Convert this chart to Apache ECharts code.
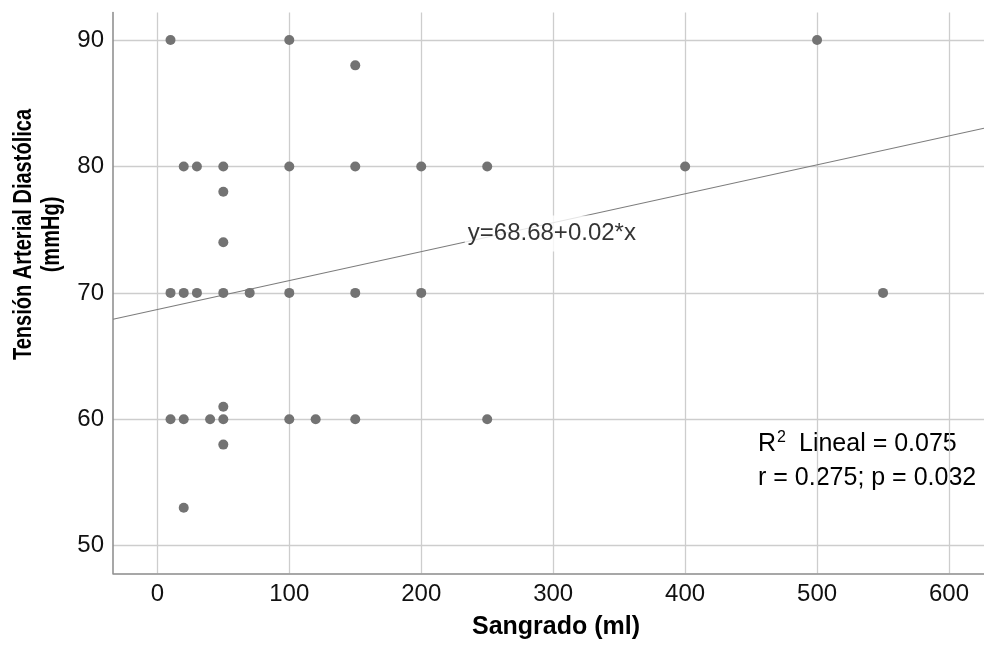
<!DOCTYPE html>
<html>
<head>
<meta charset="utf-8">
<script src="https://cdn.jsdelivr.net/npm/echarts@6/dist/echarts.min.js"></script>
<style>
html,body{margin:0;padding:0;background:#fff;}
#chart{width:984px;height:654px;}
</style>
</head>
<body>
<div id="chart"></div>
<script>
// Data
const sangrado = [10, 100, 500, 150, 20, 30, 50, 100, 150, 200, 250, 400, 50, 50, 10, 20, 30, 50, 70, 100, 150, 200, 550, 50, 10, 20, 40, 50, 100, 120, 150, 250, 50, 20];
const tension  = [90, 90, 90, 88, 80, 80, 80, 80, 80, 80, 80, 80, 78, 74, 70, 70, 70, 70, 70, 70, 70, 70, 70, 61, 60, 60, 60, 60, 60, 60, 60, 60, 58, 53];

const xRange = [-33.6, 626.5];
const yRange = [47.82, 92.18];
const fitIntercept = 68.68;
const fitSlope = 0.0229;
const fitLabel = 'y=68.68+0.02*x';
const fitLabelPos = [299, 74.7];
const xTitle = 'Sangrado (ml)';
const yTitle = 'Tensión Arterial Diastólica\n(mmHg)';
const statR2Main = 'R';
const statR2Sup = '2';
const statR2Rest = 'Lineal = 0.075';
const statR = 'r = 0.275; p = 0.032';

const points = sangrado.map((x, i) => [x, tension[i]]);
const fitLine = xRange.map(x => [x, fitIntercept + fitSlope * x]);

const FONT = '"Liberation Sans", Arial, Helvetica, sans-serif';
const chart = echarts.init(document.getElementById('chart'), null, {renderer: 'canvas'});

chart.setOption({
  animation: false,
  backgroundColor: '#ffffff',
  grid: {left: 113, right: 0, top: 12.5, bottom: 80.7, containLabel: false},
  xAxis: {
    type: 'value', min: xRange[0], max: xRange[1], splitNumber: 6,
    axisLine: {show: true, onZero: false, lineStyle: {color: '#8a8a8a', width: 1.5}},
    axisTick: {show: false},
    axisLabel: {fontFamily: FONT, fontSize: 24, color: '#111', margin: 9, showMinLabel: false, showMaxLabel: false},
    splitLine: {show: true, showMinLine: false, showMaxLine: false, lineStyle: {color: '#cdcdcd', width: 1.3}}
  },
  yAxis: {
    type: 'value', min: yRange[0], max: yRange[1], splitNumber: 4,
    axisLine: {show: true, onZero: false, lineStyle: {color: '#8a8a8a', width: 1.5}},
    axisTick: {show: false},
    axisLabel: {fontFamily: FONT, fontSize: 24, color: '#111', margin: 9, showMinLabel: false, showMaxLabel: false},
    splitLine: {show: true, showMinLine: false, showMaxLine: false, lineStyle: {color: '#cdcdcd', width: 1.3}}
  },
  series: [
    {
      type: 'line', data: fitLine, showSymbol: false, silent: true, z: 2,
      lineStyle: {color: '#7c7c7c', width: 1.1}
    },
    {
      type: 'scatter', data: points, symbol: 'circle', symbolSize: 10, z: 3,
      itemStyle: {color: '#737373', opacity: 1}
    },
    {
      type: 'scatter', data: [fitLabelPos], symbolSize: 0, z: 5, silent: true,
      label: {
        show: true, position: 'inside', formatter: fitLabel,
        fontFamily: FONT, fontSize: 24, color: '#000',
        backgroundColor: '#ffffff', padding: [6, 3, 6, 3]
      }
    }
  ],
  graphic: [
    {
      type: 'text', x: 38, y: 234.5, rotation: Math.PI / 2, scaleX: 0.77,
      style: {text: yTitle, font: 'bold 26px ' + FONT, fill: '#000', textAlign: 'center', textVerticalAlign: 'middle', lineHeight: 28}
    },
    {
      type: 'text', x: 556, y: 627,
      style: {text: xTitle, font: 'bold 25px ' + FONT, fill: '#000', textAlign: 'center', textVerticalAlign: 'middle'}
    },
    {
      type: 'text', x: 758, y: 444.5,
      style: {text: statR2Main, font: '25px ' + FONT, fill: '#000', textAlign: 'left', textVerticalAlign: 'middle'}
    },
    {
      type: 'text', x: 777, y: 437.5,
      style: {text: statR2Sup, font: '16px ' + FONT, fill: '#000', textAlign: 'left', textVerticalAlign: 'middle'}
    },
    {
      type: 'text', x: 799, y: 444.5,
      style: {text: statR2Rest, font: '25px ' + FONT, fill: '#000', textAlign: 'left', textVerticalAlign: 'middle'}
    },
    {
      type: 'text', x: 758, y: 478.5,
      style: {text: statR, font: '25px ' + FONT, fill: '#000', textAlign: 'left', textVerticalAlign: 'middle'}
    }
  ]
});
</script>
</body>
</html>
